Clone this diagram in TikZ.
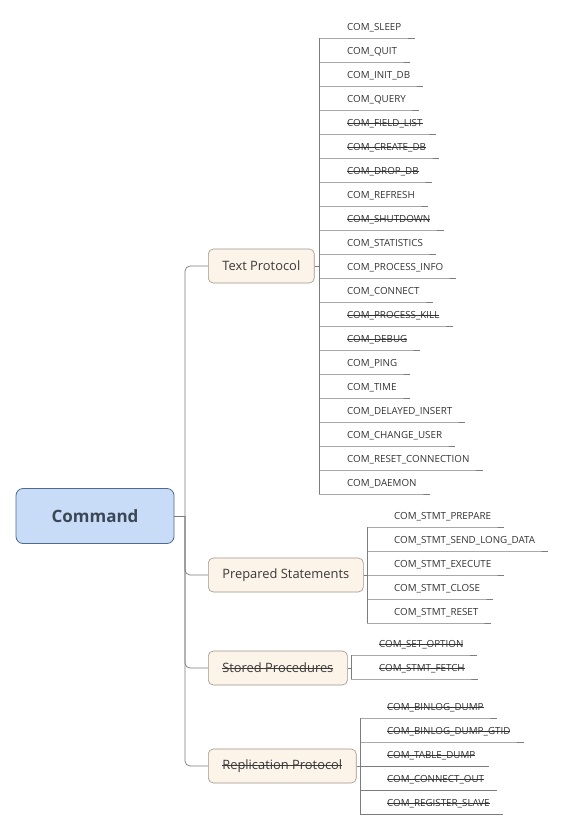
\documentclass[tikz,border=0pt]{standalone}
\usepackage{fontspec}
\setmainfont{Open Sans}
\newcommand\mystrike[1]{\setbox0\hbox{#1}\rlap{\rule[0.3em]{\wd0}{0.55pt}}\box0}
\definecolor{rootfill}{HTML}{C9DCF7}
\definecolor{rootborder}{HTML}{4F6A8C}
\definecolor{roottext}{HTML}{3A4757}
\definecolor{topfill}{HTML}{FCF3E9}
\definecolor{topborder}{HTML}{A09488}
\definecolor{toptext}{HTML}{3A3A3A}
\definecolor{leaftext}{HTML}{333333}
\definecolor{linecol}{HTML}{7C7C7C}
\begin{document}
\begin{tikzpicture}[x=1pt,y=-1pt,
  root/.style={draw=rootborder, fill=rootfill, rounded corners=7pt, line width=0.8pt,
    minimum width=158pt, minimum height=55pt, font=\fontsize{17}{20}\selectfont\bfseries, text=roottext},
  topic/.style={draw=topborder, fill=topfill, rounded corners=5pt, line width=0.6pt,
    minimum height=34pt, inner xsep=14pt, anchor=west, font=\fontsize{12.9}{15}\selectfont, text=toptext},
  leaf/.style={inner sep=0pt, anchor=base west, font=\fontsize{9.8}{11}\selectfont, text=leaftext},
  conn/.style={draw=linecol, line width=0.7pt},
  branch/.style={conn, rounded corners=5pt}]
\useasboundingbox[fill=white] (0,0) rectangle (566,830);

\node[root] (cmd) at (95,516) {Command};
\node[topic] (tp) at (208,266) {Text Protocol};
\node[topic] (ps) at (208,575) {Prepared Statements};
\node[topic] (sp) at (208,668) {\mystrike{Stored Procedures}};
\node[topic] (rp) at (208,766) {\mystrike{Replication Protocol}};

\draw[conn] (cmd.east) -- (185,516) coordinate (junc);
\foreach \n in {tp,ps,sp,rp} \draw[branch] (junc) |- (\n.west);

% Text Protocol leaves
\coordinate (tpt1) at (319,38);
\coordinate (tpt2) at (319,494);
\draw[conn] (tpt1) -- (tpt2);
\draw[conn] (tp.east) -- (tp.east -| tpt1);
\foreach \t [count=\i] in {COM\_SLEEP, COM\_QUIT, COM\_INIT\_DB, COM\_QUERY,
  \mystrike{COM\_FIELD\_LIST}, \mystrike{COM\_CREATE\_DB}, \mystrike{COM\_DROP\_DB}, COM\_REFRESH,
  \mystrike{COM\_SHUTDOWN}, COM\_STATISTICS, COM\_PROCESS\_INFO, COM\_CONNECT,
  \mystrike{COM\_PROCESS\_KILL}, \mystrike{COM\_DEBUG}, COM\_PING, COM\_TIME,
  COM\_DELAYED\_INSERT, COM\_CHANGE\_USER, COM\_RESET\_CONNECTION, COM\_DAEMON} {
  \node[leaf] (tpl\i) at (347,{30.5+24*(\i-1)}) {\t};
  \coordinate (tpu\i) at (319,{38+24*(\i-1)});
  \draw[conn] (tpu\i) -- (tpu\i -| tpl\i.base east) -- ++(13,0);
}

% Prepared Statements leaves
\coordinate (pst1) at (367,527);
\coordinate (pst2) at (367,623);
\draw[conn] (pst1) -- (pst2);
\draw[conn] (ps.east) -- (ps.east -| pst1);
\foreach \t [count=\i] in {COM\_STMT\_PREPARE, COM\_STMT\_SEND\_LONG\_DATA,
  COM\_STMT\_EXECUTE, COM\_STMT\_CLOSE, COM\_STMT\_RESET} {
  \node[leaf] (psl\i) at (394,{519.5+24*(\i-1)}) {\t};
  \coordinate (psu\i) at (367,{527+24*(\i-1)});
  \draw[conn] (psu\i) -- (psu\i -| psl\i.base east) -- ++(13,0);
}

% Stored Procedures leaves
\coordinate (spt1) at (351,655);
\coordinate (spt2) at (351,679);
\draw[conn] (spt1) -- (spt2);
\draw[conn] (sp.east) -- (sp.east -| spt1);
\foreach \t [count=\i] in {\mystrike{COM\_SET\_OPTION}, \mystrike{COM\_STMT\_FETCH}} {
  \node[leaf] (spl\i) at (379,{647.5+24*(\i-1)}) {\t};
  \coordinate (spu\i) at (351,{655+24*(\i-1)});
  \draw[conn] (spu\i) -- (spu\i -| spl\i.base east) -- ++(13,0);
}

% Replication Protocol leaves
\coordinate (rpt1) at (360,718);
\coordinate (rpt2) at (360,814);
\draw[conn] (rpt1) -- (rpt2);
\draw[conn] (rp.east) -- (rp.east -| rpt1);
\foreach \t [count=\i] in {\mystrike{COM\_BINLOG\_DUMP}, \mystrike{COM\_BINLOG\_DUMP\_GTID},
  \mystrike{COM\_TABLE\_DUMP}, \mystrike{COM\_CONNECT\_OUT}, \mystrike{COM\_REGISTER\_SLAVE}} {
  \node[leaf] (rpl\i) at (387,{710.5+24*(\i-1)}) {\t};
  \coordinate (rpu\i) at (360,{718+24*(\i-1)});
  \draw[conn] (rpu\i) -- (rpu\i -| rpl\i.base east) -- ++(13,0);
}
\end{tikzpicture}
\end{document}
